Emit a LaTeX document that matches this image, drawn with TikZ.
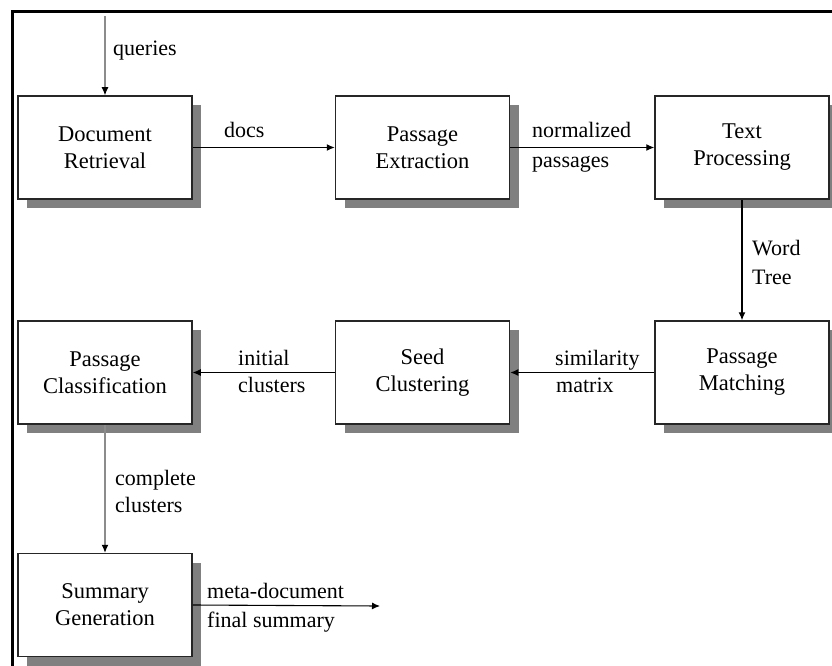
\documentclass[tikz,border=0pt]{standalone}
\usepackage{fontspec}
\setmainfont{Liberation Serif}
\usetikzlibrary{arrows.meta,shadows}
\begin{document}
\begin{tikzpicture}[x=1pt,y=-1pt,
  box/.style={draw=black!85,line width=1.5pt,fill=white,minimum width=174pt,minimum height=103pt,
    inner sep=0pt,align=center,font=\fontsize{22.5}{27}\selectfont,
    drop shadow={shadow xshift=9pt,shadow yshift=-9pt,fill=black!50,opacity=1}},
  lbl/.style={anchor=base west,inner sep=0pt,align=left,font=\fontsize{22}{27}\selectfont},
  flow/.style={line width=1.1pt,-{Latex[length=8pt,width=7pt]}},
  gflow/.style={line width=1.1pt,draw=black!45,-{Latex[length=8pt,width=7pt,fill=black,color=black]}}]
\useasboundingbox (0,0) rectangle (832,666);
\fill[white] (0,0) rectangle (832,666);
\draw[line width=3pt] (12,666) -- (12,12) -- (832,12);
\node[box] (dr) at (105,147.5) {Document\\Retrieval};
\node[box] (pe) at (422.5,147.5) {Passage\\Extraction};
\node[box] (tp) at (742,147.5) {Text\\Processing};
\node[box] (pc) at (105,372.5) {Passage\\Classification};
\node[box] (sc) at (422.5,372.5) {Seed\\Clustering};
\node[box] (pm) at (742,372.5) {Passage\\Matching};
\node[box] (sg) at (105,605) {Summary\\Generation};
\coordinate (qin) at (105,16);
\coordinate (out) at (380,606);
\draw[gflow] (qin) -- (dr.north);
\draw[flow] (dr.east) -- (pe.west);
\draw[flow] (pe.east) -- (tp.west);
\draw[flow] (tp.south) -- (pm.north);
\draw[flow] (pm.west) -- (sc.east);
\draw[flow] (sc.west) -- (pc.east);
\draw[gflow] (pc.south) -- (sg.north);
\draw[flow] (sg.east) -- (out);
\node[lbl] (lq) at (113,56) {queries};
\node[lbl] (ld) at (224,138) {docs};
\node[lbl] (ln1) at (532,138) {normalized};
\node[lbl] (ln2) at (532,167) {passages};
\node[lbl] (lw1) at (752,255) {Word};
\node[lbl] (lw2) at (752,284) {Tree};
\node[lbl] (ls1) at (555,365) {similarity};
\node[lbl] (ls2) at (556,392) {matrix};
\node[lbl] (li1) at (238,365) {initial};
\node[lbl] (li2) at (238,392) {clusters};
\node[lbl] (lc1) at (115,485) {complete};
\node[lbl] (lc2) at (115,512) {clusters};
\node[lbl] (lm1) at (207,598) {meta-document};
\node[lbl] (lm2) at (207,627) {final summary};
\end{tikzpicture}
\end{document}
